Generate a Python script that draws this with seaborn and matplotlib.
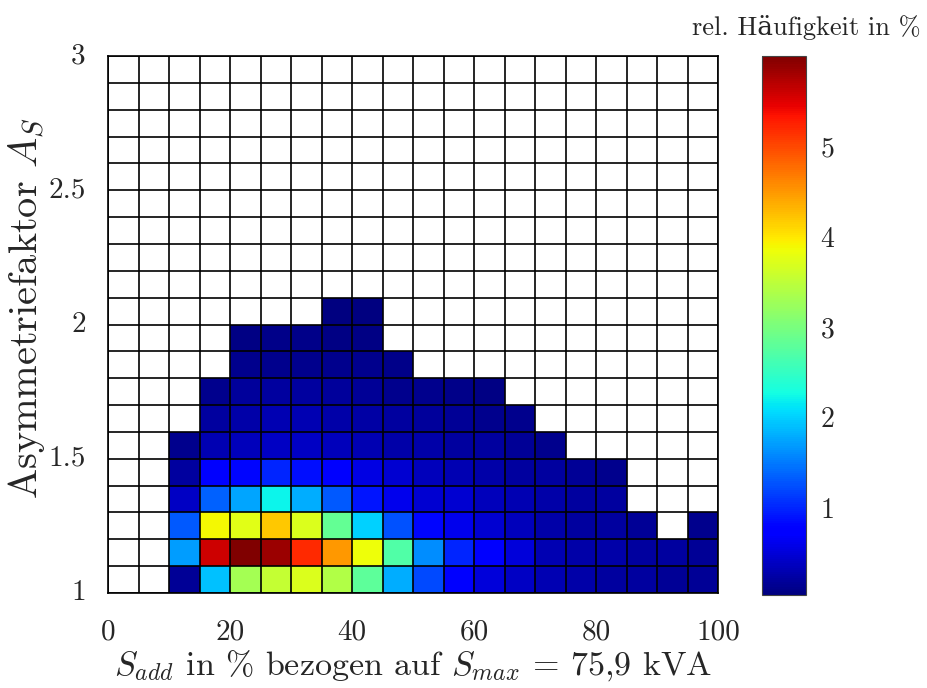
import numpy as np
import pandas as pd
import matplotlib
matplotlib.use("Agg")
import matplotlib.pyplot as plt
import seaborn as sns

# x bins: S_add in % (0..100, step 5); y bins: asymmetry factor (1.0..3.0, step 0.1)
x_bin_labels = [f"{v}-{v+5}" for v in range(0, 100, 5)]
y_bin_labels = [f"{1 + i/10:.1f}-{1 + (i+1)/10:.1f}" for i in range(20)]

# relative frequency in %, one list per y-bin row (bottom row = 1.0-1.1), 20 x-bins each
row_1_0 = [0, 0, 0.15, 1.9, 3.3, 3.55, 3.7, 3.4, 2.8, 1.8, 1.2, 0.75, 0.5, 0.4, 0.3, 0.25, 0.2, 0.2, 0.15, 0.15]
row_1_1 = [0, 0, 1.7, 5.6, 6.0, 5.85, 5.2, 4.5, 3.85, 2.7, 1.6, 1.0, 0.7, 0.5, 0.3, 0.25, 0.25, 0.2, 0.2, 0.15]
row_1_2 = [0, 0, 1.3, 3.9, 3.75, 4.2, 3.7, 2.85, 2.0, 1.25, 0.8, 0.6, 0.45, 0.35, 0.25, 0.2, 0.2, 0.15, 0, 0.1]
row_1_3 = [0, 0, 0.4, 1.35, 1.75, 2.2, 1.8, 1.3, 0.9, 0.6, 0.45, 0.45, 0.35, 0.3, 0.25, 0.2, 0.2, 0, 0, 0]
row_1_4 = [0, 0, 0.2, 0.7, 0.8, 1.0, 0.85, 0.7, 0.55, 0.45, 0.35, 0.3, 0.25, 0.2, 0.2, 0.15, 0.12, 0, 0, 0]
row_1_5 = [0, 0, 0.12, 0.3, 0.35, 0.4, 0.4, 0.35, 0.3, 0.25, 0.25, 0.2, 0.2, 0.15, 0.12, 0, 0, 0, 0, 0]
row_1_6 = [0, 0, 0, 0.2, 0.25, 0.3, 0.3, 0.25, 0.22, 0.2, 0.18, 0.15, 0.12, 0.1, 0, 0, 0, 0, 0, 0]
row_1_7 = [0, 0, 0, 0.12, 0.18, 0.2, 0.2, 0.18, 0.15, 0.12, 0.1, 0.08, 0.07, 0, 0, 0, 0, 0, 0, 0]
row_1_8 = [0, 0, 0, 0, 0.12, 0.12, 0.12, 0.12, 0.1, 0.08, 0, 0, 0, 0, 0, 0, 0, 0, 0, 0]
row_1_9 = [0, 0, 0, 0, 0.07, 0.08, 0.08, 0.07, 0.06, 0, 0, 0, 0, 0, 0, 0, 0, 0, 0, 0]
row_2_0 = [0, 0, 0, 0, 0, 0, 0, 0.04, 0.03, 0, 0, 0, 0, 0, 0, 0, 0, 0, 0, 0]
empty_row = [0] * 20

rows = [row_1_0, row_1_1, row_1_2, row_1_3, row_1_4, row_1_5, row_1_6,
        row_1_7, row_1_8, row_1_9, row_2_0] + [empty_row] * 9

x_tick_labels = ["0", "20", "40", "60", "80", "100"]
y_tick_labels = ["1", "1.5", "2", "2.5", "3"]
cbar_tick_values = [1, 2, 3, 4, 5]

df = pd.DataFrame(rows, index=y_bin_labels, columns=x_bin_labels)
mask = df.values == 0
vmin = df.values[df.values > 0].min()
vmax = df.values.max()

sns.set_style("white")
plt.rcParams["font.family"] = ["cmr10", "DejaVu Serif"]
plt.rcParams["mathtext.fontset"] = "cm"
plt.rcParams["axes.formatter.use_mathtext"] = True
plt.rcParams["axes.unicode_minus"] = False

fig = plt.figure(figsize=(9.27, 6.88), dpi=100)
ax = fig.add_axes([108/927, 1 - 593/688, 610/927, (593 - 56)/688])
cax = fig.add_axes([762/927, 1 - 595/688, 44/927, (595 - 56)/688])

sns.heatmap(df, mask=mask, cmap="jet", vmin=vmin, vmax=vmax, ax=ax, cbar_ax=cax,
            linewidths=0, square=False)
ax.invert_yaxis()
ax.set_xlim(0, 20)
ax.set_ylim(0, 20)

n = len(x_bin_labels)
m = len(y_bin_labels)
ax.hlines(np.arange(m + 1), 0, n, colors="black", linewidth=1.2, zorder=3)
ax.vlines(np.arange(n + 1), 0, m, colors="black", linewidth=1.2, zorder=3)

ax.set_xticks(np.linspace(0, n, len(x_tick_labels)))
ax.set_xticklabels(x_tick_labels, rotation=0, fontsize=21)
ax.set_yticks(np.linspace(0, m, len(y_tick_labels)))
ax.set_yticklabels(y_tick_labels, rotation=0, fontsize=21)
ax.tick_params(axis="x", length=0, pad=19)
ax.tick_params(axis="y", length=0, pad=16)
for s in ax.spines.values():
    s.set_visible(True)
    s.set_color("black")
    s.set_linewidth(1.2)

ax.set_xlabel(r"$S_{add}$ in % bezogen auf $S_{max}$ = 75,9 kVA", fontsize=24.5, labelpad=2)
ax.set_ylabel(r"Asymmetriefaktor $A_S$", fontsize=29)
ax.yaxis.set_label_coords(-0.1, 0.53)

cbar = ax.collections[0].colorbar
cbar.set_ticks(cbar_tick_values)
cbar.ax.tick_params(labelsize=20, direction="in", length=4, width=1, right=True, left=False, pad=10)
cbar.outline.set_visible(True)
cbar.outline.set_linewidth(0.8)
cbar.outline.set_edgecolor("#444444")

fig.text(921/927, 1 - 27/688, "rel. Häufigkeit in %", ha="right", va="center", fontsize=19)

fig.savefig("out.png", dpi=100)
